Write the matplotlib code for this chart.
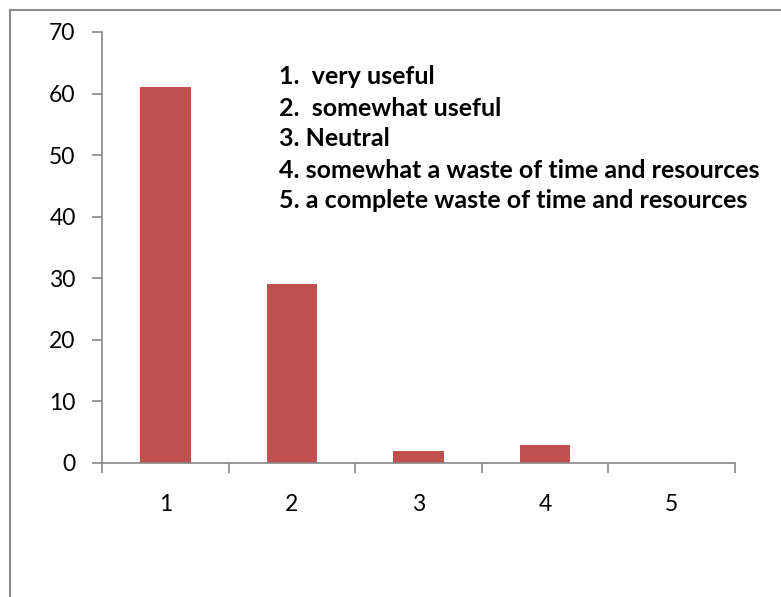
import matplotlib.pyplot as plt
from matplotlib.ticker import FixedLocator
from matplotlib.lines import Line2D

plt.rcParams['font.family'] = ['Lato', 'DejaVu Sans']

# 資料
categories = [1, 2, 3, 4, 5]
counts = [61, 29, 2, 3, 0]
legend_lines = [
    '1.  very useful',
    '2.  somewhat useful',
    '3. Neutral',
    '4. somewhat a waste of time and resources',
    '5. a complete waste of time and resources',
]

fig = plt.figure(figsize=(7.81, 5.97), dpi=100)
ax = fig.add_axes([0.1306, 0.2245, 0.8105, 0.7219])

ax.bar(categories, counts, width=0.4, color='#C0504D')

axis_grey = '#868686'
ax.set_xlim(0.5, 5.5)
ax.set_ylim(0, 70)
ax.set_yticks(range(0, 71, 10))
ax.set_xticks(categories)
ax.xaxis.set_minor_locator(FixedLocator([0.5, 1.5, 2.5, 3.5, 4.5, 5.5]))

for s in ['top', 'right']:
    ax.spines[s].set_visible(False)
for s in ['left', 'bottom']:
    ax.spines[s].set_color(axis_grey)
    ax.spines[s].set_linewidth(1.2)

ax.tick_params(axis='y', direction='out', length=7, width=1.2, color=axis_grey,
               labelsize=16.5, pad=12)
ax.tick_params(axis='x', which='major', length=0, labelsize=16.5, pad=22)
ax.tick_params(axis='x', which='minor', direction='out', length=7, width=1.2,
               color=axis_grey)

# 說明文字
for i, line in enumerate(legend_lines):
    fig.text(279 / 781, 1 - (77 + i * 31) / 597, line, fontsize=18,
             fontweight='bold', va='center', ha='left')

# 外框（左與上）
fig.add_artist(Line2D([10 / 781, 10 / 781], [0, 1 - 10 / 597],
                      color='#8c8c8c', lw=1.5, transform=fig.transFigure))
fig.add_artist(Line2D([10 / 781, 1], [1 - 10 / 597, 1 - 10 / 597],
                      color='#8c8c8c', lw=1.5, transform=fig.transFigure))

fig.savefig('out.png', dpi=100)
